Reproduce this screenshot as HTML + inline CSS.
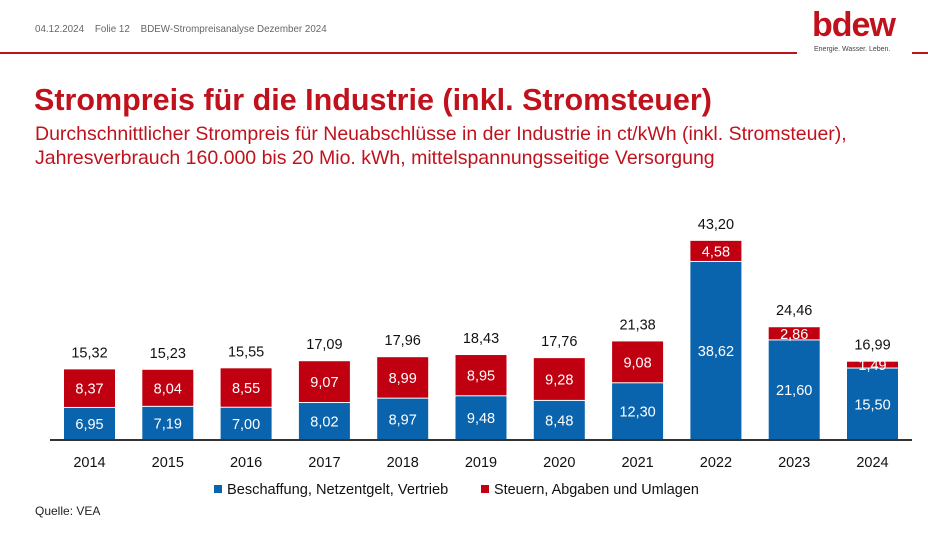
<!DOCTYPE html>
<html><head><meta charset="utf-8"><style>
body{margin:0;width:928px;height:535px;background:#fff;overflow:hidden;position:relative;font-family:"Liberation Sans",sans-serif}
.t{position:absolute;white-space:nowrap}
</style></head><body>
<div class="t" style="left:35px;top:24px;font-size:9.8px;color:#666">04.12.2024&nbsp;&nbsp;&nbsp;&nbsp;Folie 12&nbsp;&nbsp;&nbsp;&nbsp;BDEW-Strompreisanalyse Dezember 2024</div>
<div style="position:absolute;left:0;top:52px;width:797px;height:2px;background:#c0121c"></div>
<div style="position:absolute;left:912px;top:52px;width:16px;height:2px;background:#c0121c"></div>
<div class="t" style="left:812px;top:6px;font-size:34px;font-weight:bold;color:#c0121c;letter-spacing:-1px">bdew</div>
<div class="t" style="left:814px;top:46px;font-size:7px;color:#444">Energie. Wasser. Leben.</div>
<div class="t" style="left:34px;top:83px;font-size:30.5px;font-weight:bold;color:#c0121c">Strompreis für die Industrie (inkl. Stromsteuer)</div>
<div class="t" style="left:35px;top:122px;font-size:19.5px;color:#c0121c;line-height:24px">Durchschnittlicher Strompreis für Neuabschlüsse in der Industrie in ct/kWh (inkl. Stromsteuer),<br>Jahresverbrauch 160.000 bis 20 Mio. kWh, mittelspannungsseitige Versorgung</div>
<svg id="c" width="928" height="535" style="position:absolute;left:0;top:0"></svg>
<div class="t" style="left:35px;top:504px;font-size:12px;color:#222">Quelle: VEA</div>
<script>
const years=["2014","2015","2016","2017","2018","2019","2020","2021","2022","2023","2024"];
const blueVals=[6.95,7.19,7.00,8.02,8.97,9.48,8.48,12.30,38.62,21.60,15.50];
const redVals=[8.37,8.04,8.55,9.07,8.99,8.95,9.28,9.08,4.58,2.86,1.49];
const totals=[15.32,15.23,15.55,17.09,17.96,18.43,17.76,21.38,43.20,24.46,16.99];
const svg=document.getElementById('c');const NS='http://www.w3.org/2000/svg';
const base=440,k=4.61,x0=89.5,step=78.3,bw=51;
const y=v=>base-v*k, xc=i=>x0+i*step;
const fmt=v=>v.toFixed(2).replace('.',',');
function mk(tag,a,txt){const e=document.createElementNS(NS,tag);for(const n in a)e.setAttribute(n,a[n]);if(txt!=null)e.textContent=txt;svg.appendChild(e);return e;}
years.forEach((yr,i)=>{
 const b=blueVals[i],r=redVals[i],t=totals[i];
 let e=mk('rect',{x:xc(i)-bw/2,y:y(b),width:bw,height:b*k,fill:'#0a64ad'});
 
 e=mk('rect',{x:xc(i)-bw/2,y:y(b+r),width:bw,height:r*k-1,fill:'#c00010'});
 
 e=mk('text',{x:xc(i),y:(y(b)+base)/2+5,'text-anchor':'middle','font-size':14.5,fill:'#fff'},fmt(b));
 
 e=mk('text',{x:xc(i),y:(y(b+r)+y(b))/2+5,'text-anchor':'middle','font-size':14.5,fill:'#fff'},fmt(r));
 
 e=mk('text',{x:xc(i),y:y(t)-12,'text-anchor':'middle','font-size':14.5,fill:'#111'},fmt(t));
 
 e=mk('text',{x:xc(i),y:467,'text-anchor':'middle','font-size':14.5,fill:'#111'},yr);
 
});
let ax=mk('line',{x1:50,x2:912,y1:base,y2:base,stroke:'#333','stroke-width':2});

let l=mk('rect',{x:214,y:485,width:8,height:8,fill:'#0a64ad'});

l=mk('text',{x:227,y:494,'font-size':14.6,fill:'#111'},'Beschaffung, Netzentgelt, Vertrieb');

l=mk('rect',{x:481,y:485,width:8,height:8,fill:'#c00010'});

l=mk('text',{x:494,y:494,'font-size':14.4,fill:'#111'},'Steuern, Abgaben und Umlagen');

</script>
</body></html>
